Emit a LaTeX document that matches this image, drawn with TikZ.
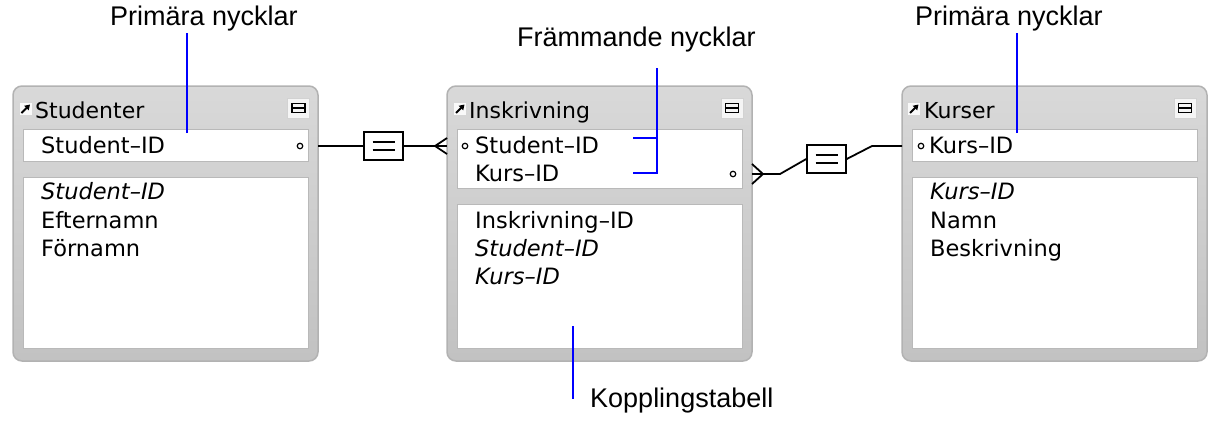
\documentclass[tikz,border=0pt]{standalone}
\usepackage{fontspec}
\setmainfont{Liberation Sans}
\newfontfamily\tabfont{DejaVu Sans}
\usetikzlibrary{arrows.meta}

\begin{document}
\begin{tikzpicture}[
	x=1pt, y=-1pt,
	TabStyle/.style={draw=gray!60, line width=1.5pt, rounded corners=9pt,
		top color=gray!30, bottom color=gray!48, minimum width=305,
		minimum height=275, outer sep=0pt},
	FeltStyle/.style={draw=gray!55, fill=white, line width=1pt,
		minimum width=285, outer sep=0pt},
	RadStyle/.style={anchor=base west, inner sep=0pt,
		font=\tabfont\fontsize{22.5}{27}\selectfont},
	KursivStyle/.style={RadStyle, font=\tabfont\itshape\fontsize{22.5}{27}\selectfont},
	TitelStyle/.style={RadStyle, font=\tabfont\fontsize{22}{26}\selectfont},
	IkonStyle/.style={fill=gray!5, inner sep=0pt, minimum size=12,
		path picture={
			\draw[black, line width=1.8pt, -{Triangle[length=5pt,width=6pt]}]
				([xshift=-4pt,yshift=-4pt]path picture bounding box.center)
				-- ([xshift=4.5pt,yshift=4.5pt]path picture bounding box.center);}},
	KnappStyle/.style={draw=gray!35, fill=gray!8, minimum width=22,
		minimum height=20, inner sep=0pt,
		path picture={
			\draw[black, line width=1.8pt] ([xshift=-6.5pt,yshift=-4.5pt]path picture bounding box.center)
				rectangle ([xshift=6.5pt,yshift=4.5pt]path picture bounding box.center);
			\draw[black, line width=1.6pt] ([xshift=-6.5pt]path picture bounding box.center)
				-- ([xshift=6.5pt]path picture bounding box.center);}},
	PunktStyle/.style={circle, draw, line width=1.2pt, minimum size=5.5pt, inner sep=0pt},
	LikStyle/.style={draw, fill=white, line width=1.5pt, minimum width=39,
		minimum height=28, inner sep=0pt},
	Linje/.style={line width=1.8pt},
	Blaa/.style={blue, line width=1.5pt},
	EtikettStyle/.style={anchor=base west, inner sep=0pt,
		font=\fontsize{27}{32}\selectfont},
	]
	\useasboundingbox (0,0) rectangle (1214,429);

	% Studenter
	\node [TabStyle] (stud) at (165.5,223.5) {};
	\node [FeltStyle, minimum height=32] (studkey) at (165.5,145) {};
	\node [FeltStyle, minimum height=171] (studfalt) at (165.5,262.5) {};
	\node [IkonStyle] (studikon) at (25.5,109) {};
	\node [TitelStyle] (studtitel) at (35,118) {Studenter};
	\node [KnappStyle] (studknapp) at (298.5,108) {};
	\node [RadStyle] (s1) at (41,153) {Student–ID};
	\node [PunktStyle] (pk1) at (300,146) {};
	\node [KursivStyle] (s2) at (41,199) {Student–ID};
	\node [RadStyle] (s3) at (41,228) {Efternamn};
	\node [RadStyle] (s4) at (41,256) {Förnamn};

	% Inskrivning
	\node [TabStyle] (ins) at (599.5,223.5) {};
	\node [FeltStyle, minimum height=59] (inskey) at (599.5,158.5) {};
	\node [FeltStyle, minimum height=144] (insfalt) at (599.5,276) {};
	\node [IkonStyle] (insikon) at (460,109) {};
	\node [TitelStyle] (institel) at (469,118) {Inskrivning};
	\node [KnappStyle] (insknapp) at (732,108) {};
	\node [PunktStyle] (pk2) at (465,146) {};
	\node [RadStyle] (i1) at (475,153) {Student–ID};
	\node [RadStyle] (i2) at (475,181) {Kurs–ID};
	\node [PunktStyle] (pk3) at (733,174) {};
	\node [RadStyle] (i3) at (475,228) {Inskrivning–ID};
	\node [KursivStyle] (i4) at (475,256) {Student–ID};
	\node [KursivStyle] (i5) at (475,284) {Kurs–ID};

	% Kurser
	\node [TabStyle] (kurs) at (1054.5,223.5) {};
	\node [FeltStyle, minimum height=32] (kurskey) at (1054.5,145) {};
	\node [FeltStyle, minimum height=171] (kursfalt) at (1054.5,262.5) {};
	\node [IkonStyle] (kursikon) at (914,109) {};
	\node [TitelStyle] (kurstitel) at (924,118) {Kurser};
	\node [KnappStyle] (kursknapp) at (1185,108) {};
	\node [PunktStyle] (pk4) at (921,146) {};
	\node [RadStyle] (k1) at (929,153) {Kurs–ID};
	\node [KursivStyle] (k2) at (930,199) {Kurs–ID};
	\node [RadStyle] (k3) at (930,228) {Namn};
	\node [RadStyle] (k4) at (930,256) {Beskrivning};

	% relationer
	\node [LikStyle] (lik1) at (383.5,146) {};
	\node [LikStyle] (lik2) at (826.5,159) {};
	\foreach \n in {lik1,lik2} {
		\draw [line width=2.2pt] ([xshift=-11pt,yshift=4pt]\n.center) -- ([xshift=11pt,yshift=4pt]\n.center);
		\draw [line width=2.2pt] ([xshift=-11pt,yshift=-4pt]\n.center) -- ([xshift=11pt,yshift=-4pt]\n.center);
	}
	\coordinate (fotA) at (ins.west |- pk2);
	\coordinate (fotB) at (ins.east |- pk3);
	\coordinate (fotC) at (kurs.west |- pk4);

	\draw [Linje] (stud.east |- pk1) -- (lik1.west);
	\draw [Linje] (lik1.east) -- (fotA);
	\draw [Linje] ([yshift=8pt]fotA) -- ([xshift=-12pt]fotA) -- ([yshift=-8pt]fotA);
	\draw [Linje] ([yshift=10pt]fotB) -- ([xshift=11pt]fotB) -- ([yshift=-10pt]fotB);
	\draw [Linje] (fotB) -- ++(28,0) -- (lik2.west);
	\draw [Linje] (lik2.east) -- ([xshift=-30pt]fotC) -- (fotC);

	% etiketter
	\node [EtikettStyle] (prim1) at (110,25) {Primära nycklar};
	\node [EtikettStyle] (frammande) at (517,46) {Främmande nycklar};
	\node [EtikettStyle] (prim2) at (915,25) {Primära nycklar};
	\node [EtikettStyle] (koppling) at (590,407) {Kopplingstabell};

	\coordinate (p1) at (187,133);
	\coordinate (p2) at (1017,133);
	\coordinate (f1) at (633,138);
	\coordinate (f2) at (633,173);
	\coordinate (kt) at (573,326);
	\draw [Blaa] (p1) -- ++(0,-100);
	\draw [Blaa] (p2) -- ++(0,-100);
	\draw [Blaa] (f1) -- ++(24,0);
	\draw [Blaa] (f2) -- ++(24,0) -- ++(0,-105);
	\draw [Blaa] (kt) -- ++(0,73);
\end{tikzpicture}
\end{document}
